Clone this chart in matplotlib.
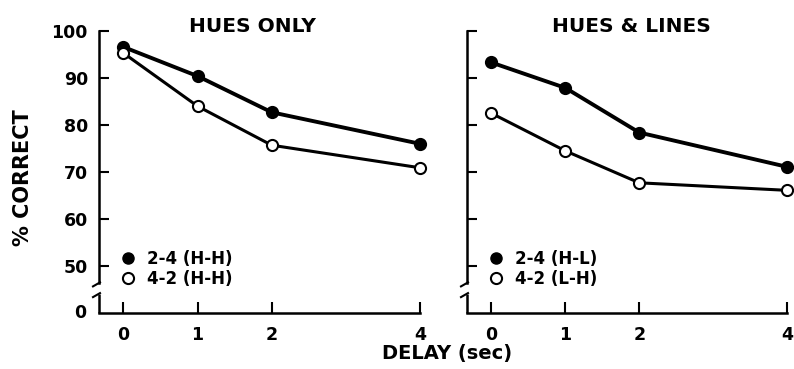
import matplotlib
matplotlib.use("Agg")
import matplotlib.pyplot as plt
from matplotlib.lines import Line2D

plt.rcParams['font.family'] = ['DejaVu Sans']

delays = [0, 1, 2, 4]
x_labels = ["0", "1", "2", "4"]
y_ticks = [50, 60, 70, 80, 90, 100]
y_tick_labels = ["50", "60", "70", "80", "90", "100"]

hues_only_24 = [96.6, 90.4, 82.7, 76.0]
hues_only_42 = [95.3, 84.0, 75.7, 70.9]
hues_lines_24 = [93.3, 87.9, 78.4, 71.1]
hues_lines_42 = [82.5, 74.5, 67.7, 66.1]

panels = [
    ("HUES ONLY", hues_only_24, hues_only_42, "2-4 (H-H)", "4-2 (H-H)"),
    ("HUES & LINES", hues_lines_24, hues_lines_42, "2-4 (H-L)", "4-2 (L-H)"),
]

W, H = 794, 369
fig = plt.figure(figsize=(W / 100, H / 100), dpi=100)

axes_px = [(99, 420), (467, 787)]
top_px, bot_px = 31, 313
title_x_px = [252, 631]

Y_ZERO = 40  # position standing for the broken "0"
Y_BREAK = 46.3
lw_axis = 1.8

for i, (title, s24, s42, lab24, lab42) in enumerate(panels):
    l, r = axes_px[i]
    ax = fig.add_axes([l / W, 1 - bot_px / H, (r - l) / W, (bot_px - top_px) / H])
    ax.set_xlim(-0.33, 4.0)
    ax.set_ylim(Y_ZERO, 100)
    for sp in ['top', 'right']:
        ax.spines[sp].set_visible(False)
    ax.spines['left'].set_linewidth(lw_axis)
    ax.spines['bottom'].set_linewidth(lw_axis)
    ax.spines['left'].set_bounds(Y_BREAK, 100)
    ax.spines['bottom'].set_bounds(-0.33, 4.0)

    ax.plot(delays, s24, color='black', lw=2.8, marker='o', ms=8,
            mfc='black', mec='black', mew=1.5, clip_on=False, zorder=3)
    ax.plot(delays, s42, color='black', lw=2.2, marker='o', ms=8,
            mfc='white', mec='black', mew=1.5, clip_on=False, zorder=3)

    ax.set_xticks(delays)
    ax.set_xticklabels(x_labels)
    ax.set_yticks(y_ticks)
    if i == 0:
        ax.set_yticklabels(y_tick_labels)
        ax.text(-0.33, Y_ZERO, "0  ", ha='right', va='center', fontsize=12.5,
                fontweight='bold', transform=ax.transData)
    else:
        ax.set_yticklabels([])
    ax.tick_params(axis='both', direction='in', length=7, width=1.5,
                   labelsize=12.5, pad=8)
    ax.tick_params(axis='x', pad=9, length=8)
    for t in ax.get_xticklabels() + ax.get_yticklabels():
        t.set_fontweight('bold')

    # lower piece of broken y-axis
    y_lo = 0.067
    y_hi = (Y_BREAK - Y_ZERO) / (100 - Y_ZERO)
    ax.plot([0, 0], [0, y_lo], transform=ax.transAxes, color='black',
            lw=lw_axis, clip_on=False, solid_capstyle='butt')
    # break marks drawn with pixel offsets
    fig.canvas.draw()
    inv = fig.transFigure.inverted()
    for yy in (y_lo, y_hi):
        x0, y0 = ax.transAxes.transform((0, yy))
        p1 = inv.transform((x0 - 6, y0 - 3))
        p2 = inv.transform((x0 + 1, y0 + 1))
        fig.add_artist(Line2D([p1[0], p2[0]], [p1[1], p2[1]], color='black', lw=1.5))

    ax.text((title_x_px[i] - l) / (r - l), 0.995, title, ha='center', va='baseline',
            fontsize=14.5, fontweight='bold', transform=ax.transAxes)

    handles = [Line2D([], [], ls='none', marker='o', ms=8, mfc='black', mec='black'),
               Line2D([], [], ls='none', marker='o', ms=8, mfc='white', mec='black', mew=1.5)]
    ax.legend(handles, [lab24, lab42], loc='lower left',
              bbox_to_anchor=(0.05, 0.065), frameon=False,
              handlelength=0.8, handletextpad=0.7, labelspacing=0.15,
              borderaxespad=0, prop={'size': 12, 'weight': 'semibold'})

fig.text(23 / W, 1 - 178 / H, "% CORRECT", rotation=90, ha='center', va='center',
         fontsize=15, fontweight='bold')
fig.text(447 / W, 1 - 354 / H, "DELAY (sec)", ha='center', va='center',
         fontsize=14, fontweight='bold')

fig.savefig("out.png", dpi=100)
